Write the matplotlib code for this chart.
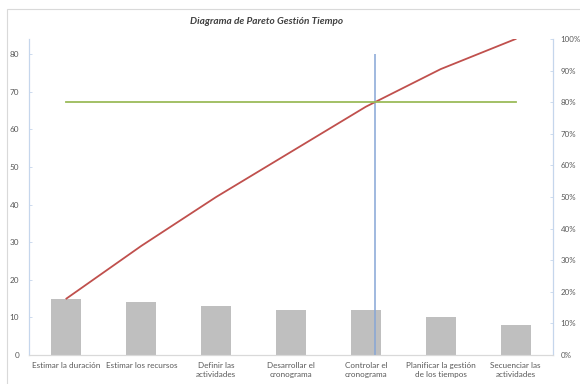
import numpy as np
import matplotlib.pyplot as plt
from matplotlib.patches import Rectangle
from matplotlib.ticker import PercentFormatter

# === Data ===
categories = [
    "Estimar la duración",
    "Estimar los recursos",
    "Definir las\nactividades",
    "Desarrollar el\ncronograma",
    "Controlar el\ncronograma",
    "Planificar la gestión\nde los tiempos",
    "Secuenciar las\nactividades",
]
horas = [15, 14, 13, 12, 12, 10, 8]
limite_pct = 80        # 80/20 cut-off line
corte_altura = 80      # height of the cut-off marker (left axis units)

# === Style ===
W, H = 580, 384
BAR = "#bfbfbf"
RED = "#c0504d"
GREEN = "#9bbb59"
BLUE = "#86a6d6"
AXIS = "#c5d6ec"
TXT = "#595959"
plt.rcParams["font.family"] = ["Lato", "DejaVu Sans"]

total = sum(horas)
acum = np.cumsum(horas) / total * 100
x = np.arange(len(categories))

# x where the cumulative line crosses the limit
i = np.searchsorted(acum, limite_pct)
x_corte = x[i - 1] + (limite_pct - acum[i - 1]) / (acum[i] - acum[i - 1])

fig = plt.figure(figsize=(W / 100, H / 100), dpi=100)
fig.patches.append(Rectangle((7 / W, -0.1), 1.2, 1.1 - 9 / H,
                             transform=fig.transFigure, fill=False,
                             edgecolor="#d9d9d9", lw=0.8))

ax = fig.add_axes([29 / W, (H - 355) / H, 524 / W, 316 / H])
ax2 = ax.twinx()

ax.bar(x, horas, width=0.4, color=BAR, zorder=2)
ax.vlines(x_corte, 0, corte_altura, color=BLUE, lw=1.1, zorder=4)

ax2.plot(x, acum, color=RED, lw=1.3, zorder=3)
ax2.plot([x[0], x[-1]], [limite_pct, limite_pct], color=GREEN, lw=1.3, zorder=3)

ax.set_xlim(-0.5, len(categories) - 0.5)
ax.set_ylim(0, total)
ax2.set_ylim(0, 100)
ax.set_yticks(range(0, 81, 10))
ax2.set_yticks(range(0, 101, 10))
ax2.yaxis.set_major_formatter(PercentFormatter(decimals=0))

ax.set_xticks(x)
ax.set_xticklabels(categories, fontsize=5.9, color=TXT, linespacing=1.4)
ax.tick_params(axis="x", length=0, pad=5)
ax.tick_params(axis="y", direction="in", length=2, width=0.6, color=AXIS,
               labelsize=5.9, labelcolor=TXT, pad=7)
ax2.tick_params(axis="y", direction="in", length=2, width=0.6, color=AXIS,
                labelsize=5.7, labelcolor=TXT, pad=5.5)

for a in (ax, ax2):
    a.spines["top"].set_visible(False)
    a.spines["left"].set_color(AXIS)
    a.spines["right"].set_color(AXIS)
    a.spines["bottom"].set_color("#d9d9d9")
    a.spines["left"].set_linewidth(0.8)
    a.spines["right"].set_linewidth(0.8)
    a.spines["bottom"].set_linewidth(0.8)

fig.text(267 / W, 1 - 22 / H, "Diagrama de Pareto Gestión Tiempo", ha="center",
         va="center", fontsize=7.2, fontweight="bold", fontstyle="italic",
         color="#404040")

fig.savefig("out.png", dpi=100)
